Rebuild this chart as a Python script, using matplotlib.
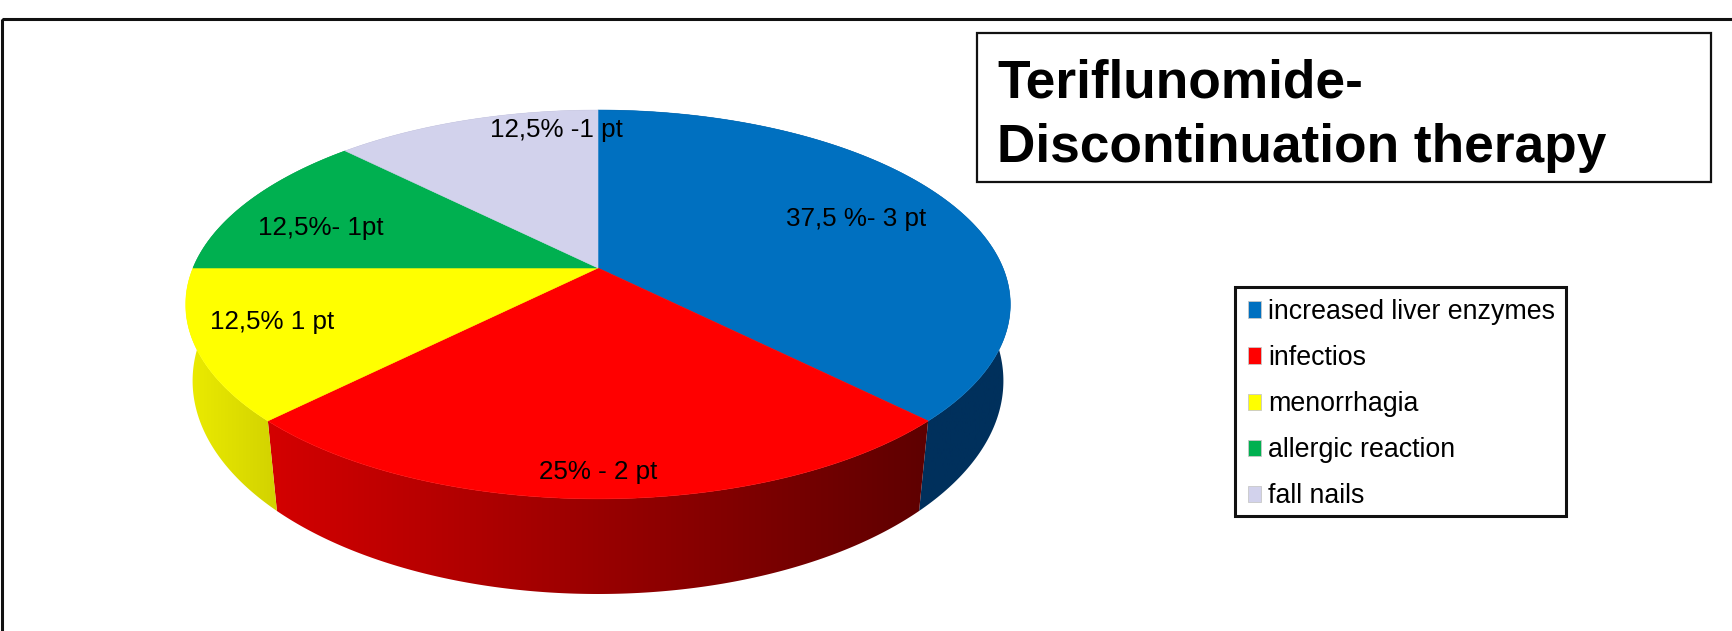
import numpy as np
from matplotlib import pyplot as plt
from matplotlib.colors import to_rgb
from matplotlib.patches import Patch, Polygon, Rectangle

plt.rcParams['font.family'] = ['Liberation Sans', 'DejaVu Sans']

categories = ['increased liver enzymes', 'infectios', 'menorrhagia',
              'allergic reaction', 'fall nails']
patients = [3, 2, 1, 1, 1]
labels = ['37,5 %- 3 pt', '25% - 2 pt', '12,5% 1 pt', '12,5%- 1pt', '12,5% -1 pt']
label_pos = [(856, 219), (598, 472), (272, 322), (321, 228), (556, 130)]
top_colors = ['#0070C0', '#FF0000', '#FFFF00', '#00B050', '#D2D2EC']
# wall colour at left and right end of the pie
wall_colors = [('#00305C', '#00305C'), ('#D40000', '#5E0000'), ('#ECEC00', '#D2D200'),
               ('#007A38', '#007A38'), ('#9090A8', '#9090A8')]

W, H = 1733, 631
CX = 598
TOP = dict(a=405, b=187.6, cy=268, k=0.1875)       # perspective of the top face
BOTTOM = dict(a=399.5, b=207, cy=344.6, k=0.17)    # same for the bottom rim


def project(theta, a, b, cy, k):
    # theta runs clockwise from 12 o'clock
    w = 1 + k * np.cos(theta)
    return CX + a * np.sin(theta) / w, cy - b * np.cos(theta) / w


fig = plt.figure(figsize=(W / 100, H / 100), dpi=100)
ax = fig.add_axes([0, 0, 1, 1])
ax.set_xlim(0, W)
ax.set_ylim(H, 0)
ax.axis('off')

# outer frame, runs off the right and bottom of the picture
ax.add_patch(Rectangle((2, 19), W + 20, H, fill=False, ec='#111111', lw=2.2))

total = sum(patients)
edges = np.cumsum([0] + patients) / total * 2 * np.pi

# side walls first, the top face covers what is hidden
for i in range(len(patients)):
    t = np.linspace(edges[i], edges[i + 1], 200)
    tx, ty = project(t, **TOP)
    bx, by = project(t[::-1], **BOTTOM)
    poly = Polygon(np.column_stack([np.r_[tx, bx], np.r_[ty, by]]), fc='none', ec='none')
    ax.add_patch(poly)
    left = np.array(to_rgb(wall_colors[i][0]))
    right = np.array(to_rgb(wall_colors[i][1]))
    ramp = np.linspace(0, 1, 256)[None, :, None]
    grad = left + (right - left) * ramp
    x0, x1 = min(tx.min(), bx.min()), max(tx.max(), bx.max())
    y0, y1 = min(ty.min(), by.min()), max(ty.max(), by.max())
    im = ax.imshow(grad, extent=[x0, x1, y1, y0], aspect='auto', zorder=2)
    im.set_clip_path(poly)

# top face
for i in range(len(patients)):
    t = np.linspace(edges[i], edges[i + 1], 200)
    tx, ty = project(t, **TOP)
    ax.add_patch(Polygon(np.column_stack([np.r_[CX, tx], np.r_[TOP['cy'], ty]]),
                         fc=top_colors[i], ec=top_colors[i], lw=0.4, zorder=3))

ax.set_xlim(0, W)
ax.set_ylim(H, 0)

for txt, pos in zip(labels, label_pos):
    ax.text(pos[0], pos[1], txt, fontsize=18.7, color='black', ha='center', va='center', zorder=5)

# title box
ax.add_patch(Rectangle((977, 33), 734, 149, fc='white', ec='#111111', lw=1.6, zorder=4))
ax.text(997, 97, 'Teriflunomide-', fontsize=38.3, fontweight='bold', va='baseline', zorder=5)
ax.text(997, 162, 'Discontinuation therapy', fontsize=38.3, fontweight='bold', va='baseline', zorder=5)

# legend box drawn apart so it can sit exactly where the original has it
ax.add_patch(Rectangle((1235, 287), 331, 229, fc='white', ec='#111111', lw=2.2, zorder=4))
handles = [Patch(fc=c, ec='#C8C8C8', lw=0.6) for c in top_colors]
leg = ax.legend(handles, categories, loc='upper left', bbox_to_anchor=(1248 / W, 1 - 299 / H),
                bbox_transform=ax.transAxes, borderaxespad=0, borderpad=0, fontsize=19.3,
                frameon=False, handlelength=0.49, handleheight=0.56, handletextpad=0.26,
                labelspacing=0.75)
leg.set_zorder(6)

fig.savefig('out.png', dpi=100)
